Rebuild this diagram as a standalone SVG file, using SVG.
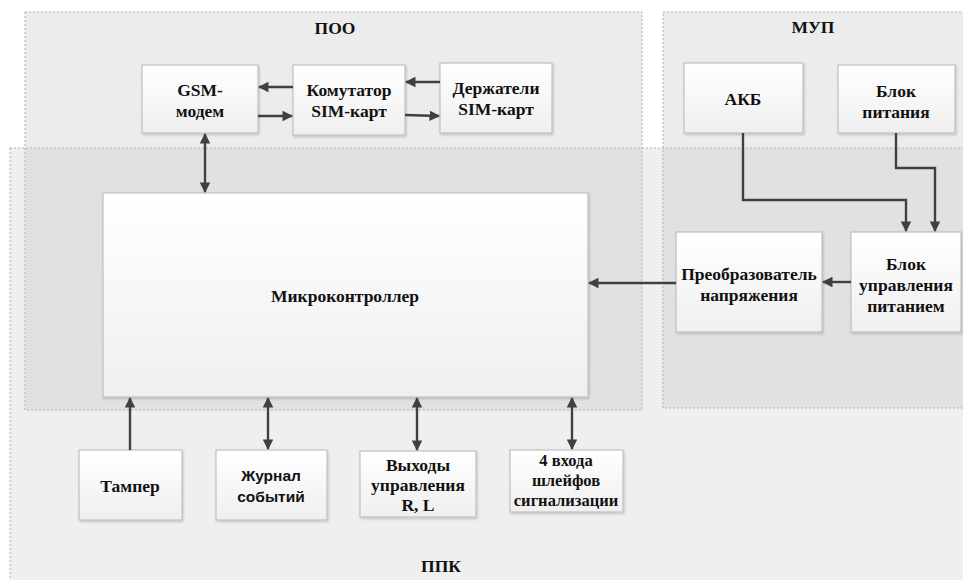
<svg xmlns="http://www.w3.org/2000/svg" width="963" height="580" viewBox="0 0 963 580">
<defs>
<linearGradient id="g" x1="0" y1="0" x2="0" y2="1"><stop offset="0" stop-color="#ffffff"/><stop offset="1" stop-color="#efefef"/></linearGradient>
<marker id="ah" viewBox="0 0 10 10" refX="9" refY="5" markerWidth="4.4" markerHeight="4.4" orient="auto-start-reverse"><path d="M0,0 L10,5 L0,10 z" fill="#404040"/></marker>
<filter id="sh" x="-5%" y="-5%" width="110%" height="115%"><feDropShadow dx="1" dy="1.5" stdDeviation="1" flood-color="#000" flood-opacity="0.18"/></filter>
<style>
.reg{stroke:#b0b0b0;stroke-width:1;stroke-dasharray:2,2}
.n rect{fill:url(#g);stroke:#c0c0c0;stroke-width:1.2;filter:url(#sh)}
.t{font-family:"Liberation Serif","DejaVu Serif",serif;font-weight:bold;font-size:17.5px;fill:#111;text-anchor:middle}
.s{font-family:"Liberation Sans",sans-serif;font-weight:bold;font-size:15.5px;fill:#111;text-anchor:middle}
.c{fill:none;stroke:#404040;stroke-width:2.4;marker-end:url(#ah)}
.b{marker-start:url(#ah)}
</style>
</defs>
<rect width="963" height="580" fill="#ffffff"/>
<g id="regions">
<rect x="25" y="12" width="617" height="398" fill="#ececec"/>
<rect x="663" y="12" width="300" height="396" fill="#ececec"/>
<rect x="10" y="148" width="953" height="432" fill="#efefef"/>
<rect x="25" y="148" width="617" height="262" fill="#e1e1e1"/>
<rect x="663" y="148" width="300" height="260" fill="#e1e1e1"/>
<rect x="25" y="12" width="617" height="398" fill="none" class="reg"/>
<rect x="663" y="12" width="310" height="396" fill="none" class="reg"/>
<rect x="10" y="148" width="963" height="442" fill="none" class="reg"/>
<text x="335" y="34" class="t">ПОО</text>
<text x="813" y="33" class="t">МУП</text>
<text x="441" y="572" class="t">ППК</text>
</g>
<g id="gsm" class="n"><rect x="142" y="65" width="116" height="68"/><text x="200" y="96" class="t">GSM-</text><text x="200" y="117" class="t">модем</text></g>
<g id="kom" class="n"><rect x="293" y="65" width="112" height="70"/><text x="349" y="96" class="t">Комутатор</text><text x="349" y="117" class="t">SIM-карт</text></g>
<g id="derzh" class="n"><rect x="440" y="63" width="112" height="70"/><text x="496" y="94" class="t">Держатели</text><text x="496" y="115" class="t">SIM-карт</text></g>
<g id="mcu" class="n"><rect x="103" y="193" width="485" height="204"/><text x="345" y="302" class="t">Микроконтроллер</text></g>
<g id="akb" class="n"><rect x="684" y="63" width="119" height="70"/><text x="743" y="105" class="t">АКБ</text></g>
<g id="bp" class="n"><rect x="838" y="65" width="117" height="68"/><text x="896" y="97" class="t">Блок</text><text x="896" y="118" class="t">питания</text></g>
<g id="preob" class="n"><rect x="676" y="232" width="146" height="100"/><text x="749" y="280" class="t">Преобразователь</text><text x="749" y="301" class="t">напряжения</text></g>
<g id="bup" class="n"><rect x="851" y="232" width="110" height="100"/><text x="906" y="270" class="t">Блок</text><text x="906" y="291" class="t">управления</text><text x="906" y="312" class="t">питанием</text></g>
<g id="tamper" class="n"><rect x="79" y="450" width="103" height="70"/><text x="130" y="492" class="t">Тампер</text></g>
<g id="zhurnal" class="n"><rect x="216" y="450" width="111" height="70"/><text x="271" y="481" class="s">Журнал</text><text x="271" y="502" class="s">событий</text></g>
<g id="vyh" class="n"><rect x="360" y="451" width="116" height="66"/><text x="418" y="471" class="t">Выходы</text><text x="418" y="491" class="t">управления</text><text x="418" y="511" class="t">R, L</text></g>
<g id="vhod" class="n"><rect x="510" y="450" width="113" height="62"/><text x="566" y="466" class="t" style="font-size:16.5px">4 входа</text><text x="566" y="486" class="t" style="font-size:16.5px">шлейфов</text><text x="566" y="506" class="t" style="font-size:16.5px">сигнализации</text></g>
<g id="connectors">
<line x1="293" y1="87" x2="259" y2="87" class="c"/>
<line x1="258" y1="116" x2="292" y2="116" class="c"/>
<line x1="440" y1="82" x2="406" y2="82" class="c"/>
<line x1="405" y1="115" x2="439" y2="116" class="c"/>
<line x1="205" y1="134" x2="205" y2="192" class="c b"/>
<polyline points="743,133 743,200 906,200 906,231" class="c"/>
<polyline points="896,133 896,168 935,168 935,231" class="c"/>
<line x1="851" y1="282" x2="823" y2="282" class="c"/>
<line x1="676" y1="283" x2="589" y2="283" class="c"/>
<line x1="130" y1="450" x2="130" y2="398" class="c"/>
<line x1="268" y1="449" x2="268" y2="398" class="c b"/>
<line x1="417" y1="450" x2="417" y2="398" class="c b"/>
<line x1="572" y1="449" x2="572" y2="398" class="c b"/>
</g>
</svg>
